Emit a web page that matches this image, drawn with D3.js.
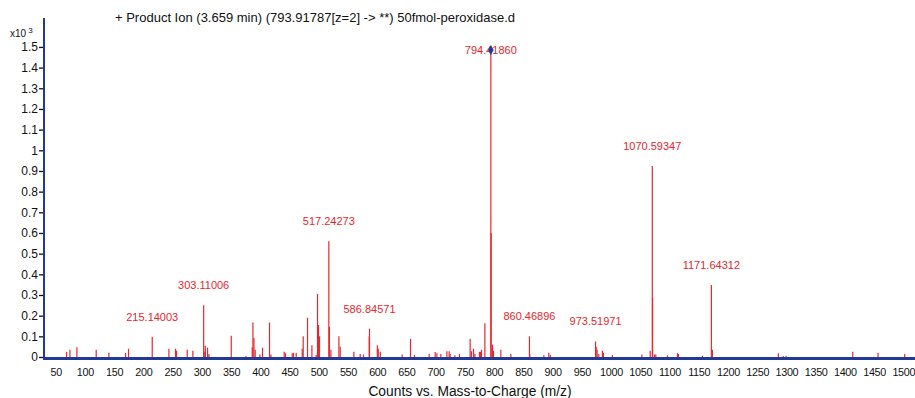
<!DOCTYPE html>
<html>
<head>
<meta charset="utf-8">
<script src="https://cdn.jsdelivr.net/npm/d3@7"></script>
<style>
  body { margin: 0; background: #fff; }
  svg { display: block; font-family: "Liberation Sans", Arial, sans-serif; }
</style>
</head>
<body>
<div id="chart"></div>
<script>
// peak positions (m/z) and heights (counts x10^3)
const mzValues = [
  68.6, 74.4, 86.3, 119.3, 141.0, 169.5, 174.6, 215.14, 243.7, 255.0, 256.7, 275.0, 284.7,
  303.11, 305.0, 306.0, 309.8, 312.1, 350.3, 375.4, 386.2, 387.4, 389.1, 391.3, 399.3, 403.8,
  415.8, 418.2, 440.9, 443.2, 454.6, 456.8, 461.4, 471.7, 473.4, 480.8, 488.3, 495.6, 497.9,
  499.6, 501.3, 517.24, 518.25, 520.8, 534.5, 536.7, 560.1, 570.9, 576.5, 586.35, 586.85,
  600.2, 601.9, 605.3, 642.7, 657.0, 663.8, 688.9, 699.2, 702.1, 708.9, 719.2, 723.1, 724.8,
  732.9, 740.7, 759.0, 761.2, 764.7, 767.1, 774.9, 776.6, 778.4, 784.2, 794.42, 794.92, 797.2,
  798.9, 811.5, 828.6, 860.47, 860.97, 885.1, 893.6, 896.4, 973.52, 974.5, 976.2, 979.1, 985.3,
  987.0, 1002.4, 1052.7, 1067.0, 1070.59, 1071.09, 1074.2, 1076.6, 1096.5, 1113.6, 1115.3,
  1156.3, 1171.64, 1173.4, 1286.3, 1294.8, 1299.5, 1413.5, 1456.8, 1502.4
];
const intensities = [
  0.025, 0.035, 0.047, 0.035, 0.02, 0.02, 0.04, 0.098, 0.04, 0.04, 0.03, 0.035, 0.03,
  0.25, 0.025, 0.055, 0.045, 0.015, 0.103, 0.005, 0.047, 0.167, 0.092, 0.035, 0.012, 0.045,
  0.167, 0.012, 0.025, 0.018, 0.018, 0.02, 0.02, 0.04, 0.1, 0.19, 0.057, 0.01, 0.305,
  0.155, 0.1, 0.56, 0.145, 0.035, 0.1, 0.05, 0.025, 0.015, 0.012, 0.1, 0.137,
  0.057, 0.04, 0.025, 0.012, 0.088, 0.01, 0.015, 0.024, 0.018, 0.015, 0.028, 0.028, 0.015,
  0.008, 0.015, 0.088, 0.028, 0.04, 0.015, 0.025, 0.025, 0.035, 0.163, 1.485, 0.6, 0.06,
  0.03, 0.035, 0.015, 0.1, 0.015, 0.008, 0.02, 0.01, 0.075, 0.05, 0.035, 0.015, 0.03,
  0.02, 0.01, 0.012, 0.03, 0.924, 0.285, 0.012, 0.012, 0.008, 0.018, 0.015,
  0.006, 0.348, 0.035, 0.018, 0.005, 0.006, 0.025, 0.02, 0.014
];
// annotated peaks
const labelMz = [215.14, 303.11, 517.24, 586.85, 794.42, 860.47, 973.52, 1070.59, 1171.64];
const labelText = ["215.14003", "303.11006", "517.24273", "586.84571", "794.41860",
  "860.46896", "973.51971", "1070.59347", "1171.64312"];
const yTicks = [0, 0.1, 0.2, 0.3, 0.4, 0.5, 0.6, 0.7, 0.8, 0.9, 1, 1.1, 1.2, 1.3, 1.4, 1.5];
const xTicks = d3.range(50, 1501, 50);

const titleText = "+ Product Ion (3.659 min) (793.91787[z=2] -> **) 50fmol-peroxidase.d";

const svgWidth = 915, svgHeight = 398;
const margin = { top: 18, right: 0, bottom: 41, left: 44 };
const chartWidth = svgWidth - margin.left - margin.right;
const chartHeight = svgHeight - margin.top - margin.bottom;

const red = "#e8262c";
const blue = "#20399a";

const svg = d3.select("#chart").append("svg")
  .attr("width", svgWidth)
  .attr("height", svgHeight);

const chartGroup = svg.append("g")
  .attr("transform", `translate(${margin.left}, ${margin.top})`);

const xScale = d3.scaleLinear().domain([30, 1520]).range([0, chartWidth]);
const yScale = d3.scaleLinear().domain([0, 1.64]).range([chartHeight, 0]);

// peaks
const peaks = mzValues.map((m, i) => ({ mz: m, v: intensities[i] }));
chartGroup.selectAll(".peak")
  .data(peaks)
  .enter()
  .append("line")
  .attr("class", "peak")
  .attr("x1", d => xScale(d.mz))
  .attr("x2", d => xScale(d.mz))
  .attr("y1", yScale(0))
  .attr("y2", d => yScale(d.v))
  .attr("stroke", red)
  .attr("stroke-width", 1.2);

// peak labels
const labelTop = yScale(1.48) + 3;
chartGroup.selectAll(".plabel")
  .data(labelMz)
  .enter()
  .append("text")
  .attr("class", "plabel")
  .attr("x", d => xScale(d))
  .attr("y", d => Math.max(yScale(intensities[mzValues.indexOf(d)]) - 16, labelTop))
  .attr("text-anchor", "middle")
  .attr("font-size", 11)
  .attr("fill", red)
  .text((d, i) => labelText[i]);

// diamond on the base peak
const baseIdx = intensities.indexOf(d3.max(intensities));
chartGroup.append("path")
  .attr("d", d3.symbol(d3.symbolDiamond, 28)())
  .attr("transform", `translate(${xScale(mzValues[baseIdx])}, ${yScale(intensities[baseIdx])})`)
  .attr("fill", blue);

// x axis
const xAxis = d3.axisBottom(xScale).tickValues(xTicks).tickSize(0).tickPadding(11)
  .tickFormat(d3.format("d"));
const xg = chartGroup.append("g")
  .attr("transform", `translate(0, ${chartHeight})`)
  .call(xAxis);
xg.select(".domain").remove();
xg.selectAll("text")
  .attr("font-size", 10.8)
  .attr("letter-spacing", -0.3)
  .attr("fill", "#111")
  .attr("font-family", null);
chartGroup.append("line")
  .attr("x1", 0).attr("x2", chartWidth)
  .attr("y1", chartHeight + 1.5).attr("y2", chartHeight + 1.5)
  .attr("stroke", blue).attr("stroke-width", 3);

// y axis
const yAxis = d3.axisLeft(yScale).tickValues(yTicks).tickSize(5).tickPadding(1)
  .tickFormat(d3.format("~g"));
const yg = chartGroup.append("g").call(yAxis);
yg.select(".domain").remove();
yg.selectAll("line").attr("stroke", "#111").attr("stroke-width", 1.3);
yg.selectAll("text").attr("font-size", 12).attr("fill", "#111").attr("font-family", null);
chartGroup.append("line")
  .attr("x1", 0).attr("x2", 0)
  .attr("y1", 0).attr("y2", chartHeight + 3)
  .attr("stroke", blue).attr("stroke-width", 2);

// multiplier
const mult = svg.append("text").attr("x", 10).attr("y", 37).attr("font-size", 10).attr("fill", "#111");
mult.append("tspan").text("x10");
mult.append("tspan").attr("dx", 2).attr("dy", -4).attr("font-size", 8).text("3");

// title
svg.append("text")
  .attr("x", 115).attr("y", 22)
  .attr("font-size", 13)
  .attr("fill", "#111")
  .text(titleText);

// axis title
svg.append("text")
  .attr("x", 470).attr("y", 396)
  .attr("text-anchor", "middle")
  .attr("font-size", 13.8)
  .attr("fill", "#111")
  .text("Counts vs. Mass-to-Charge (m/z)");
</script>
</body>
</html>
